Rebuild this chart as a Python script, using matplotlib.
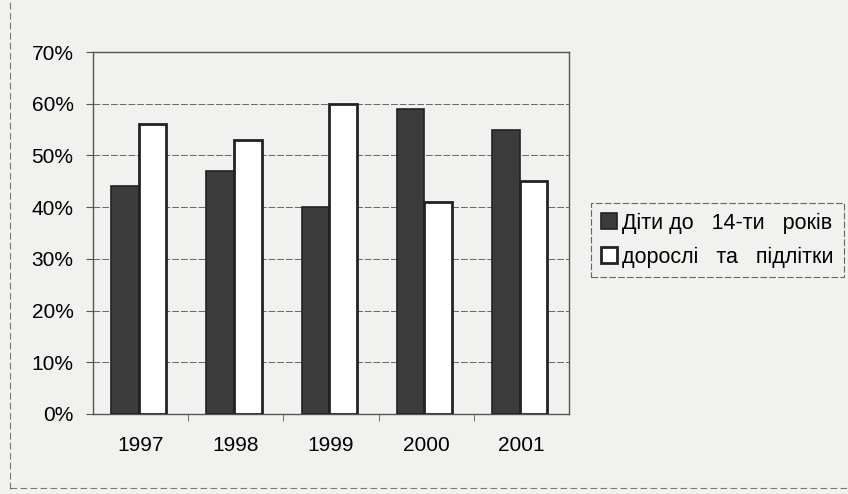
import matplotlib as mpl
mpl.use('Agg')
import matplotlib.pyplot as plt
from matplotlib.lines import Line2D
import numpy as np

# data
years = ['1997', '1998', '1999', '2000', '2001']
kids = [44, 47, 40, 59, 55]      # діти до 14-ти років, %
adults = [56, 53, 60, 41, 45]    # дорослі та підлітки, %
yticks = [0, 10, 20, 30, 40, 50, 60, 70]

plt.rcParams['font.family'] = ['Liberation Sans', 'DejaVu Sans']
bg = '#f1f1ef'

fig = plt.figure(figsize=(8.48, 4.94), dpi=100, facecolor=bg)
ax = fig.add_axes([0.1097, 0.162, 0.5613, 0.7327])
ax.set_facecolor(bg)

x = np.arange(len(years))
w = 0.29
ax.bar(x - w / 2 - 0.02, kids, w, color='#3b3b3b', edgecolor='#222222',
       linewidth=1.2, label='Діти до   14-ти   років', zorder=3)
ax.bar(x + w / 2 - 0.02, adults, w, color='white', edgecolor='#222222',
       linewidth=2, label='дорослі   та   підлітки', zorder=3)

ax.set_xlim(-0.5, len(years) - 0.5)
ax.set_ylim(0, 70)
ax.set_yticks(yticks)
ax.set_yticklabels([str(v) + '%' for v in yticks])
ax.set_xticks(x)
ax.set_xticklabels(years)
ax.set_xticks(x[:-1] + 0.5, minor=True)
ax.tick_params(axis='x', which='major', length=0, pad=16, labelsize=15)
ax.tick_params(axis='x', which='minor', length=5, color='#555555')
ax.tick_params(axis='y', length=5, pad=9, labelsize=15, color='#555555')
ax.yaxis.grid(True, color='#666666', linestyle=(0, (7, 2)), linewidth=0.7,
              zorder=0)
for s in ax.spines.values():
    s.set_color('#555555')
    s.set_linewidth(1.0)

leg = fig.legend(loc='center', bbox_to_anchor=(0.846, 0.514), fontsize=15.5,
                 handlelength=0.75, handleheight=0.75, handletextpad=0.25,
                 labelspacing=0.6, borderpad=0.45, fancybox=False,
                 facecolor=bg, framealpha=1)
leg.get_frame().set_edgecolor('#666666')
leg.get_frame().set_linestyle((0, (6, 2)))
leg.get_frame().set_linewidth(0.8)

# outer dashed frame of the chart area
fig.add_artist(Line2D([0.012, 0.012], [0.01, 1.0], color='#777777',
                      linestyle=(0, (6, 3)), linewidth=0.8))
fig.add_artist(Line2D([0.012, 1.0], [0.012, 0.012], color='#777777',
                      linestyle=(0, (6, 3)), linewidth=0.8))

fig.savefig('out.png', dpi=100, facecolor=bg)
